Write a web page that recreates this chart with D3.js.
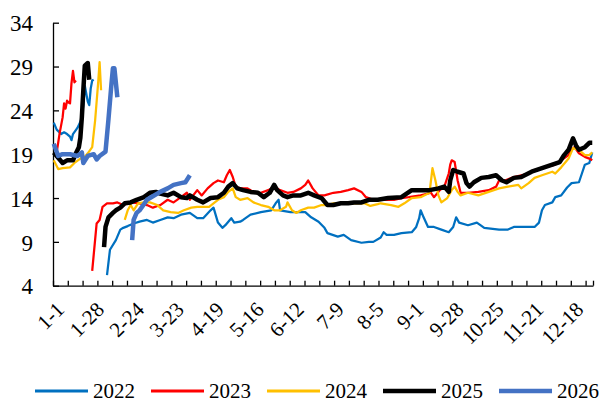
<!DOCTYPE html>
<html>
<head>
<meta charset="utf-8">
<script src="https://cdn.jsdelivr.net/npm/d3@7"></script>
<style>
  body { margin: 0; background: #fff; }
  svg { display: block; }
  text { font-family: "Liberation Serif", "Times New Roman", serif; fill: #000; }
</style>
</head>
<body>
<svg id="chart" width="606" height="405"></svg>
<script>
// Data: [day of year (0 = 1-1), value]; null marks the holiday gap
const s2022 = [[0,22.6],[2,21.8],[5,21.3],[7,21.5],[9,21.3],[11,21.0],[12,20.6],[13,21.3],[16,22.0],[18,22.7],[19,23.2],[20,24.6],[21,26.8],[23,25.0],[24,24.6],[25,26.5],[26,27.4],[27,27.5],
  null,
  [36,5.2],[38,8.1],[42,9.2],[45,10.4],[47,10.6],[50,10.8],[54,11.1],[58,11.3],[63,11.5],[67,11.2],[72,11.5],[77,11.8],[81,11.7],[86,12.1],[92,12.3],[97,11.7],[101,11.7],[106,12.6],[108,12.9],[111,11.2],
  [114,10.6],[116,10.9],[120,11.7],[122,11.2],[126,11.3],[128,11.5],[133,12.1],[140,12.4],[147,12.6],[150,13.4],[152,13.8],[153,12.6],[160,12.4],[167,12.4],[170,12.4],[174,11.8],[179,11.3],[183,10.6],[185,10.0],[192,9.6],
  [196,9.8],[201,9.2],[208,8.9],[213,9.0],[216,9.0],[221,9.5],[223,10.1],[225,9.8],[230,9.8],[235,10.0],[242,10.1],[245,10.7],[247,11.7],[248,12.6],[250,11.8],[253,10.7],[257,10.7],[262,10.4],[267,10.1],[270,10.7],
  [272,11.8],[274,11.2],[280,10.9],[286,11.2],[291,10.6],[301,10.4],[307,10.4],[311,10.7],[318,10.7],[325,10.7],[328,11.2],[330,12.6],[332,13.2],[337,13.5],[339,14.1],[343,14.3],[347,15.2],[350,15.7],[355,15.8],[357,16.8],
  [359,17.8],[362,18.0],[364,19.2]]

const s2023 = [[2,19.2],[4,21.4],[6,23.2],[7,24.8],[8,24.2],[9,25.1],[10,24.9],[11,24.8],[12,27.1],[13,28.5],[14,27.2],[15,27.4],
  null,
  [26,5.7],[29,11.1],[31,11.5],[33,13.0],[36,13.4],[40,13.4],[43,13.5],[47,13.2],[52,13.5],[58,13.4],[63,13.2],[67,12.9],[72,13.2],[77,13.8],[81,13.5],[86,14.1],[90,14.6],[92,13.8],[97,14.9],[100,14.3],
  [104,15.1],[108,15.7],[111,16.0],[115,15.8],[117,16.6],[119,17.2],[121,16.4],[123,15.3],[126,15.1],[131,15.1],[135,14.7],[140,14.6],[145,14.9],[149,15.3],[153,14.9],[158,14.6],[162,14.7],[167,15.1],[170,15.5],[172,16.0],
  [175,15.1],[179,14.3],[183,14.3],[189,14.6],[194,14.7],[199,14.9],[203,15.1],[208,14.7],[211,14.1],[216,13.8],[224,13.8],[230,13.8],[235,14.0],[240,14.1],[248,14.3],[255,14.6],[257,14.1],[261,14.9],[264,15.3],[267,16.8],
  [268,17.8],[269,18.3],[271,18.1],[273,16.0],[275,14.6],[280,14.6],[287,14.7],[294,14.9],[299,15.3],[301,16.0],[305,16.0],[311,16.4],[316,16.6],[321,16.8],[325,17.2],[332,17.5],[339,17.8],[343,18.3],[348,18.9],[350,19.5],
  [352,19.8],[355,19.1],[359,18.7],[362,18.5],[364,18.3]]

const s2024 = [[0,18.3],[3,17.3],[6,17.4],[11,17.5],[14,18.0],[18,18.5],[21,18.7],[23,19.1],[26,19.8],[28,22.9],[30,27.1],[31,29.5],[32,26.3],
  null,
  [48,11.5],[50,12.6],[52,13.2],[54,12.6],[57,13.4],[61,13.5],[65,13.5],[70,13.2],[74,12.6],[79,12.4],[84,12.3],[88,12.6],[93,12.9],[97,13.0],[105,13.0],[111,13.8],[115,14.1],[118,14.7],[121,15.1],[123,14.1],
  [126,13.8],[131,14.0],[135,13.5],[140,13.2],[145,13.0],[149,12.6],[153,12.6],[157,13.0],[158,13.5],[161,12.6],[164,12.3],[167,12.6],[172,12.9],[176,12.9],[181,13.2],[185,13.2],[189,13.4],[196,13.4],[203,13.4],[210,13.4],
  [214,13.1],[219,13.3],[221,13.4],[228,13.2],[233,13.0],[237,13.4],[242,14.0],[248,14.1],[254,14.6],[255,16.0],[256,17.4],[258,16.0],[260,14.3],[262,13.5],[266,14.0],[269,14.9],[271,15.3],[273,14.7],[275,14.3],[280,14.6],
  [287,14.3],[294,14.7],[301,15.1],[307,15.3],[314,15.5],[316,15.1],[321,15.7],[325,16.3],[330,16.6],[337,17.0],[339,16.8],[343,17.5],[348,18.5],[351,19.7],[355,19.5],[359,18.9],[362,18.9],[364,19.2]]

const s2025 = [[0,19.2],[3,18.6],[6,18.0],[9,18.3],[13,18.3],[15,19.1],[17,19.8],[18,20.9],[19,23.2],[20,26.3],[21,29.1],[23,29.4],[24,27.5],
  null,
  [34,8.4],[35,10.7],[37,11.8],[40,12.3],[42,12.6],[45,12.9],[48,13.4],[52,13.5],[56,13.8],[61,14.1],[65,14.6],[69,14.7],[72,14.5],[77,14.3],[81,14.6],[86,14.1],[90,14.0],[92,14.3],[97,13.8],[101,13.5],
  [106,14.0],[111,14.1],[115,14.6],[118,15.3],[121,15.7],[124,15.1],[128,14.9],[133,14.7],[138,14.6],[142,14.1],[146,14.6],[149,15.5],[151,14.9],[155,14.3],[158,14.1],[162,14.3],[167,14.3],[172,14.6],[176,14.3],[181,14.0],
  [185,13.2],[189,13.2],[194,13.4],[199,13.4],[203,13.5],[208,13.5],[213,13.8],[219,13.8],[226,14.0],[235,14.1],[242,14.9],[248,14.9],[254,14.9],[260,15.1],[264,15.3],[267,14.7],[268,16.0],[270,17.2],[273,17.0],[277,16.8],
  [279,15.7],[281,15.3],[284,15.8],[289,16.3],[294,16.4],[299,16.6],[303,16.0],[306,15.8],[311,16.3],[316,16.4],[323,17.0],[330,17.4],[337,17.8],[342,18.1],[345,18.9],[348,19.5],[351,20.8],[353,20.0],[355,19.5],[359,19.8],
  [362,20.3],[364,20.3]]

const s2026 = [[0,20.2],[3,18.8],[6,19.0],[11,19.0],[16,18.8],[19,19.2],[20,18.0],[23,18.8],[27,19.0],[29,18.4],[31,18.8],[35,19.3],[37,23.0],[39,27.0],[40,28.8],[41,28.8],[43,25.5],
  null,
  [53,9.2],[54,11.5],[56,12.3],[58,12.6],[61,13.3],[63,13.8],[67,14.2],[72,14.7],[77,15.1],[81,15.5],[86,15.7],[89,15.8],[92,16.6]]

const seriesNames = ["2022", "2023", "2024", "2025", "2026"]
const seriesData = [s2022, s2023, s2024, s2025, s2026]
const seriesColors = ["#0070C0", "#FF0000", "#FFC000", "#000000", "#4472C4"]
const seriesWidths = [2.25, 2.25, 2.25, 4.5, 4.5]

const yTicks = [4, 9, 14, 19, 24, 29, 34]
const xLabels = ["1-1","1-28","2-24","3-23","4-19","5-16","6-12","7-9","8-5","9-1","9-28","10-25","11-21","12-18"]
const xLabelDays = [0, 27, 54, 81, 108, 135, 162, 189, 216, 243, 270, 297, 324, 351]

// Scales //
const svg = d3.select("#chart")
const nDays = 365
const x = d3.scaleLinear().domain([0, nDays]).range([53, 593])
const y = d3.scaleLinear().domain([4, 34]).range([285.7, 22.7])

// Y axis //
const yAxis = svg.append("g")
    .attr("transform", "translate(53,0)")
    .call(d3.axisLeft(y).tickValues(yTicks).tickSize(-6).tickSizeOuter(0).tickPadding(20))
yAxis.selectAll("text").style("font-size", "23px").attr("dy", "0.36em")
yAxis.selectAll("line, path").attr("stroke", "#000").attr("stroke-width", 1.3)

// X axis tick marks //
const xTickDays = d3.range(0, nDays, 10).concat([nDays])
const xAxis = svg.append("g")
    .attr("transform", "translate(0,285.7)")
    .call(d3.axisBottom(x).tickValues(xTickDays).tickSize(-5).tickSizeOuter(0).tickFormat(""))
xAxis.selectAll("line, path").attr("stroke", "#000").attr("stroke-width", 1.3)

// X axis labels //
const xLab = svg.append("g")
    .attr("transform", "translate(0,285.7)")
    .call(d3.axisBottom(x).tickValues(xLabelDays.map(d => d + 0.5)).tickSize(0).tickFormat((d, i) => xLabels[i]))
xLab.select(".domain").remove()
xLab.selectAll("text")
    .style("font-size", "21px")
    .attr("text-anchor", "end")
    .attr("x", 0).attr("y", 0).attr("dy", "0.35em")
    .attr("transform", "translate(6,20) rotate(-45)")

// Lines //
const line = d3.line()
    .defined(d => d !== null)
    .x(d => x(d[0] + 0.5))
    .y(d => y(d[1]))

seriesData.forEach((data, i) => {
    svg.append("path")
        .datum(data)
        .attr("fill", "none")
        .attr("stroke", seriesColors[i])
        .attr("stroke-width", seriesWidths[i])
        .attr("stroke-linejoin", "round")
        .attr("d", line)
})

// Legend //
const legend = svg.append("g").attr("transform", "translate(35,391)")
seriesNames.forEach((name, i) => {
    const g = legend.append("g").attr("transform", `translate(${i * 116},0)`)
    g.append("line")
        .attr("x1", 0).attr("x2", 53)
        .attr("y1", 0).attr("y2", 0)
        .attr("stroke", seriesColors[i])
        .attr("stroke-width", i < 3 ? 3 : 4.5)
    g.append("text")
        .attr("x", 58).attr("y", 0).attr("dy", "0.33em")
        .style("font-size", "21px")
        .text(name)
})
</script>
</body>
</html>
